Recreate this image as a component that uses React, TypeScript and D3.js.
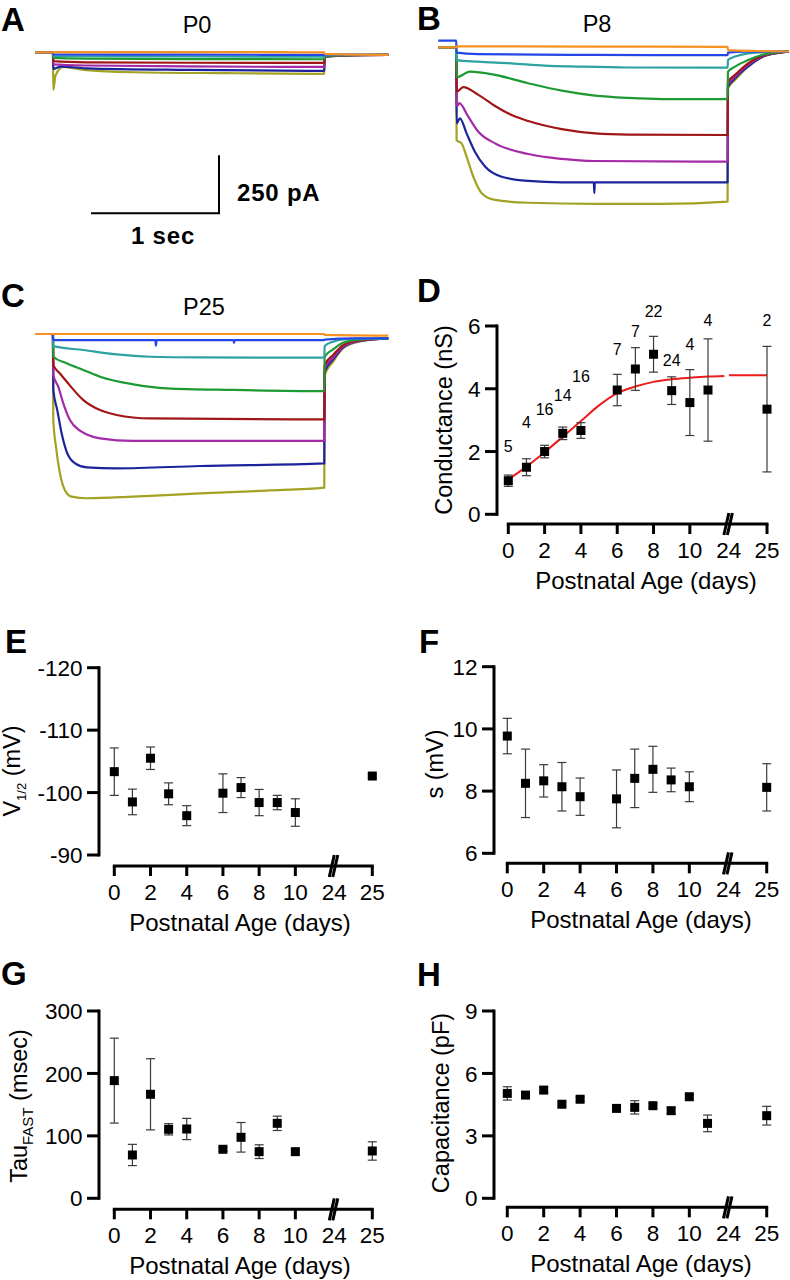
import React from 'react';
import * as d3 from 'd3';

const FONT = "'Liberation Sans', Arial, Helvetica, sans-serif";

// ---------------- Panels A–C : current traces (time s, current pA) ----------------
// order of traces: orange, blue, teal, green, red, purple, navy, olive
const traceColors = ['#f8911f', '#2446e6', '#2ea2a2', '#1e9a34', '#a01616', '#a42aa6', '#1b249c', '#a2a224'];

const tracesP0: number[][][] = [
  [[0, 0], [0.14, 0], [0.143, 1], [1.2, 1], [2.26, 0], [2.263, -7], [2.5, -10], [2.76, -11]],
  [[0, 0], [0.14, 0], [0.143, -9], [1.2, -10], [2.26, -11], [2.263, -9], [2.5, -10], [2.76, -11]],
  [[0, 0], [0.14, 0], [0.143, -16], [1.2, -18], [2.26, -19], [2.263, -12], [2.5, -11], [2.76, -11]],
  [[0, 0], [0.14, 0], [0.143, -24], [0.4, -27], [1.2, -29], [2.26, -30], [2.263, -14], [2.5, -12], [2.76, -11]],
  [[0, 0], [0.14, 0], [0.143, -38], [0.4, -43], [1.2, -45], [2.26, -46], [2.263, -16], [2.5, -12], [2.76, -11]],
  [[0, 0], [0.14, 0], [0.143, -52], [0.4, -57], [1.2, -61], [2.26, -63], [2.263, -18], [2.5, -12], [2.76, -11]],
  [[0, 0], [0.14, 0], [0.143, -72], [0.2, -62], [0.4, -69], [1.2, -76], [2.26, -80], [2.263, -19], [2.5, -12], [2.76, -11]],
  [[0, 0], [0.14, 0], [0.143, -162], [0.16, -100], [0.22, -63], [0.38, -76], [0.77, -86], [1.5, -90], [2.26, -93], [2.263, -20], [2.5, -12], [2.76, -11]],
];

const tracesP8: number[][][] = [
  [[0, 0], [0.14, 0], [0.143, 4], [1.2, 3], [2.26, 2], [2.263, -12], [2.5, -16], [2.74, -18]],
  [[0, 29], [0.14, 29], [0.143, -23], [0.31, -29], [1.22, -33], [2.26, -34], [2.263, -23], [2.4, -19], [2.74, -18.7]],
  [[0, 0], [0.14, 0], [0.143, -55], [0.31, -62], [0.57, -69], [0.83, -79], [1.09, -83], [1.48, -87], [2.26, -88], [2.263, -55], [2.318, -40], [2.42, -26], [2.526, -21.6], [2.656, -18.7], [2.74, -18.7]],
  [[0, 0], [0.14, 0], [0.143, -129], [0.247, -105], [0.443, -119], [0.703, -155], [0.964, -187], [1.224, -208], [1.484, -218], [1.745, -223], [2.26, -223], [2.263, -105], [2.318, -83], [2.42, -55], [2.526, -33], [2.656, -21.6], [2.74, -18.7]],
  [[0, 0], [0.14, 0], [0.143, -191], [0.195, -172], [0.313, -205], [0.443, -253], [0.573, -292], [0.703, -318], [0.964, -353], [1.224, -371], [1.484, -376], [2.26, -378], [2.263, -148], [2.318, -119], [2.42, -69], [2.526, -37], [2.656, -23], [2.74, -18.7]],
  [[0, 0], [0.14, 0], [0.143, -256], [0.164, -241], [0.234, -299], [0.313, -364], [0.443, -414], [0.703, -460], [0.964, -481], [1.224, -490], [2.26, -493], [2.263, -162], [2.318, -126], [2.42, -76], [2.526, -40], [2.656, -23], [2.74, -18.7]],
  [[0, 0], [0.14, 0], [0.143, -328], [0.169, -306], [0.221, -371], [0.286, -450], [0.365, -514], [0.495, -558], [0.703, -576], [0.964, -582], [1.215, -582], [1.219, -628], [1.223, -582], [2.26, -582], [2.263, -172], [2.318, -134], [2.42, -83], [2.526, -43], [2.656, -24], [2.74, -18.7]],
  [[0, 0], [0.14, 0], [0.143, -400], [0.182, -414], [0.221, -471], [0.273, -557], [0.339, -629], [0.443, -658], [0.703, -670], [1.224, -675], [1.745, -675], [2.26, -665], [2.263, -177], [2.318, -141], [2.42, -83], [2.526, -43], [2.656, -24], [2.74, -18.7]],
];

const tracesP25: number[][][] = [
  [[0, 0], [0.14, 0], [0.143, 0], [2.26, 0], [2.263, -4], [2.76, -7]],
  [[0, 0], [0.14, 0], [0.143, -26], [0.94, -26], [0.945, -50], [0.95, -26], [1.55, -26], [1.555, -38], [1.56, -26], [2.26, -26], [2.263, -24], [2.5, -19], [2.76, -18.7]],
  [[0, 0], [0.14, 0], [0.143, -52], [0.378, -69], [0.638, -88], [0.9, -98], [1.29, -101], [2.26, -102], [2.263, -52], [2.33, -33], [2.41, -23], [2.54, -20], [2.76, -18.7]],
  [[0, 0], [0.14, 0], [0.143, -98], [0.247, -126], [0.378, -155], [0.508, -184], [0.768, -217], [1.03, -234], [1.55, -241], [2.26, -246], [2.263, -98], [2.33, -66], [2.41, -37], [2.54, -24], [2.76, -18.7]],
  [[0, 0], [0.14, 0], [0.143, -134], [0.195, -170], [0.247, -205], [0.378, -285], [0.508, -328], [0.638, -349], [0.9, -364], [2.26, -368], [2.263, -134], [2.33, -90], [2.41, -47], [2.54, -27], [2.76, -18.7]],
  [[0, 0], [0.14, 0], [0.143, -177], [0.182, -227], [0.221, -299], [0.273, -371], [0.352, -417], [0.508, -450], [0.768, -461], [2.26, -461], [2.263, -148], [2.33, -101], [2.41, -52], [2.54, -29], [2.76, -18.7]],
  [[0, 0], [0.14, 0], [0.143, -241], [0.174, -328], [0.208, -428], [0.247, -507], [0.313, -558], [0.404, -575], [0.638, -579], [1.29, -569], [2.26, -558], [2.263, -162], [2.33, -109], [2.41, -56], [2.54, -30], [2.76, -18.7]],
  [[0, 0], [0.14, 0], [0.143, -371], [0.164, -486], [0.195, -601], [0.234, -673], [0.286, -701], [0.404, -708], [0.768, -701], [1.29, -687], [1.81, -675], [2.26, -662], [2.263, -177], [2.33, -119], [2.41, -60], [2.54, -32], [2.76, -18.7]],
];

const scaleBarSec = 1;
const scaleBarPA = 250;

// ---------------- Panels D–H : age-dependence ----------------
const xTickDays = [0, 2, 4, 6, 8, 10, 25];
const xTickLabelDays = [0, 2, 4, 6, 8, 10, 24, 25];

const condDays = [0, 1, 2, 3, 4, 6, 7, 8, 9, 10, 11, 25];
const condMean = [1.07, 1.5, 2.0, 2.58, 2.67, 3.96, 4.63, 5.1, 3.94, 3.56, 3.96, 3.35];
const condSem = [0.18, 0.27, 0.2, 0.2, 0.25, 0.5, 0.68, 0.57, 0.44, 1.05, 1.63, 2.0];
const condN = ['5', '4', '16', '14', '16', '7', '7', '22', '24', '4', '4', '2'];
const condNAt = [1.99, 2.76, 3.16, 3.62, 4.22, 5.08, 5.66, 6.3, 4.72, 5.22, 6.0, 6.0];
const fitDaysA = [0, 1, 2, 3, 4, 5, 6, 7, 8, 9, 10, 11, 11.9];
const fitCondA = [1.11, 1.52, 1.98, 2.47, 2.97, 3.47, 3.86, 4.07, 4.22, 4.3, 4.35, 4.39, 4.41];
const fitDaysB = [24, 25];
const fitCondB = [4.43, 4.43];

const vDays = [0, 1, 2, 3, 4, 6, 7, 8, 9, 10, 25];
const vHalf = [-103.35, -98.5, -105.5, -99.8, -96.3, -99.9, -100.8, -98.4, -98.4, -96.8, -102.65];
const vHalfSem = [3.8, 2.05, 1.8, 1.75, 1.6, 3.1, 1.6, 2.1, 1.15, 2.2, 0.3];

const sDays = [0, 1, 2, 3, 4, 6, 7, 8, 9, 10, 25];
const sVals = [9.77, 8.25, 8.33, 8.14, 7.82, 7.75, 8.41, 8.7, 8.36, 8.14, 8.12];
const sSem = [0.57, 1.1, 0.52, 0.78, 0.6, 0.93, 0.94, 0.74, 0.38, 0.48, 0.76];

const tauDays = [0, 1, 2, 3, 4, 6, 7, 8, 9, 10, 25];
const tauVals = [188.5, 69.4, 166.6, 110.5, 111, 78.5, 97.7, 74.7, 120.1, 74.7, 75.8];
const tauSem = [68, 17, 57, 9, 17, 3, 23.7, 11, 11.5, 3, 14.7];

const capDays = [0, 1, 2, 3, 4, 6, 7, 8, 9, 10, 11, 25];
const capVals = [5.04, 4.96, 5.2, 4.52, 4.76, 4.32, 4.37, 4.45, 4.21, 4.88, 3.6, 3.97];
const capSem = [0.32, 0.1, 0.12, 0.1, 0.1, 0.12, 0.32, 0.1, 0.15, 0.1, 0.4, 0.45];

// ---------------- helpers ----------------
const SEC_PX = 128;
const PA250_PX = 58;

function TracePanel({ traces, x0, y0 }: { traces: number[][][]; x0: number; y0: number }) {
  const x = d3.scaleLinear().domain([0, 1]).range([x0, x0 + SEC_PX]);
  const y = d3.scaleLinear().domain([0, -250]).range([y0, y0 + PA250_PX]);
  const line = d3
    .line<number[]>()
    .x((d) => x(d[0]))
    .y((d) => y(d[1]))
    .curve(d3.curveMonotoneX);
  const order = traces.map((_, i) => i).reverse();
  return (
    <g>
      {order.map((i) => (
        <path key={i} d={line(traces[i]) || ''} fill="none" stroke={traceColors[i]} strokeWidth={2.2} strokeLinejoin="round" />
      ))}
    </g>
  );
}

function ageScale(x0: number, x25: number) {
  const u = (x25 - x0) / 14.25;
  return d3.scaleLinear().domain([0, 12, 24, 25]).range([x0, x0 + 12 * u, x0 + 12.15 * u, x25]);
}

type Cfg = {
  letter: string;
  letterX: number;
  letterY: number;
  yAxisX: number;
  x0: number;
  x25: number;
  yDomain: [number, number];
  yRange: [number, number];
  yTicks: number[];
  xAxisY: number;
  titleX: number;
  ylabel: React.ReactNode;
  ylabelX: number;
  ylabelY: number;
};

function Scatter({
  cfg,
  days,
  vals,
  errs,
  extra,
}: {
  cfg: Cfg;
  days: number[];
  vals: number[];
  errs: number[];
  extra?: (x: d3.ScaleLinear<number, number>, y: d3.ScaleLinear<number, number>) => React.ReactNode;
}) {
  const x = ageScale(cfg.x0, cfg.x25);
  const y = d3.scaleLinear().domain(cfg.yDomain).range(cfg.yRange);
  const ax = cfg.xAxisY;
  const bx = x(24);
  const cap = 4.5;
  const sq = 9;
  return (
    <g>
      <text x={cfg.letterX} y={cfg.letterY} fontSize={33} fontWeight="bold">
        {cfg.letter}
      </text>
      {/* y axis */}
      <line x1={cfg.yAxisX} x2={cfg.yAxisX} y1={cfg.yRange[0] + 1.5} y2={cfg.yRange[1] - 1.5} stroke="#000" strokeWidth={3} />
      {cfg.yTicks.map((t) => (
        <g key={t}>
          <line x1={cfg.yAxisX - 12} x2={cfg.yAxisX} y1={y(t)} y2={y(t)} stroke="#000" strokeWidth={3} />
          <text x={cfg.yAxisX - 16.5} y={y(t)} dy="0.36em" textAnchor="end" fontSize={22.5}>
            {t}
          </text>
        </g>
      ))}
      <text
        transform={`translate(${cfg.ylabelX},${cfg.ylabelY}) rotate(-90)`}
        textAnchor="middle"
        dy="0.36em"
        fontSize={23.5}
      >
        {cfg.ylabel}
      </text>
      {/* x axis */}
      <line x1={x(0) - 1.5} x2={x(25) + 1.5} y1={ax} y2={ax} stroke="#000" strokeWidth={3} />
      {xTickDays.map((d) => (
        <line key={d} x1={x(d)} x2={x(d)} y1={ax} y2={ax + 10} stroke="#000" strokeWidth={3} />
      ))}
      {xTickLabelDays.map((d) => (
        <text key={d} x={x(d)} y={ax + 34} textAnchor="middle" fontSize={22.5}>
          {d}
        </text>
      ))}
      <line x1={bx - 5} y1={ax + 11} x2={bx} y2={ax - 11} stroke="#000" strokeWidth={3} />
      <line x1={bx - 1.5} y1={ax + 11} x2={bx + 3.5} y2={ax - 11} stroke="#000" strokeWidth={3} />
      <text x={cfg.titleX} y={ax + 65} textAnchor="middle" fontSize={24}>
        Postnatal Age (days)
      </text>
      {extra ? extra(x, y) : null}
      {/* error bars */}
      {days.map((d, i) => {
        const cx = x(d);
        const lo = y(vals[i] - errs[i]);
        const hi = y(vals[i] + errs[i]);
        return (
          <g key={'e' + i} stroke="#3a3a3a" strokeWidth={1.2}>
            <line x1={cx} x2={cx} y1={lo} y2={hi} />
            <line x1={cx - cap} x2={cx + cap} y1={lo} y2={lo} />
            <line x1={cx - cap} x2={cx + cap} y1={hi} y2={hi} />
          </g>
        );
      })}
      {days.map((d, i) => (
        <rect key={'m' + i} x={x(d) - sq / 2} y={y(vals[i]) - sq / 2} width={sq} height={sq} fill="#000" />
      ))}
    </g>
  );
}

const cfgD: Cfg = {
  letter: 'D', letterX: 417, letterY: 302, yAxisX: 497, x0: 508.3, x25: 767,
  yDomain: [0, 6], yRange: [514.3, 326], yTicks: [0, 2, 4, 6], xAxisY: 524, titleX: 646,
  ylabel: 'Conductance (nS)', ylabelX: 444, ylabelY: 420,
};
const cfgE: Cfg = {
  letter: 'E', letterX: 5, letterY: 653, yAxisX: 99, x0: 114.3, x25: 372.3,
  yDomain: [-90, -120], yRange: [855, 667.7], yTicks: [-90, -100, -110, -120], xAxisY: 866, titleX: 240,
  ylabel: (
    <>
      <tspan>V</tspan>
      <tspan fontSize={13} dy={6}>1/2</tspan>
      <tspan dy={-6}> (mV)</tspan>
    </>
  ),
  ylabelX: 12, ylabelY: 771,
};
const cfgF: Cfg = {
  letter: 'F', letterX: 419, letterY: 653, yAxisX: 494, x0: 507.3, x25: 766.7,
  yDomain: [6, 12], yRange: [853.3, 666.7], yTicks: [6, 8, 10, 12], xAxisY: 863.3, titleX: 641,
  ylabel: 's (mV)', ylabelX: 435, ylabelY: 764,
};
const cfgG: Cfg = {
  letter: 'G', letterX: 1, letterY: 985, yAxisX: 99, x0: 114.3, x25: 372.3,
  yDomain: [0, 300], yRange: [1198.3, 1011], yTicks: [0, 100, 200, 300], xAxisY: 1209.3, titleX: 240,
  ylabel: (
    <>
      <tspan>Tau</tspan>
      <tspan fontSize={15} dy={6}>FAST</tspan>
      <tspan dy={-6}> (msec)</tspan>
    </>
  ),
  ylabelX: 19, ylabelY: 1106,
};
const cfgH: Cfg = {
  letter: 'H', letterX: 417, letterY: 986, yAxisX: 494, x0: 507.3, x25: 766.7,
  yDomain: [0, 9], yRange: [1198.3, 1011], yTicks: [0, 3, 6, 9], xAxisY: 1207.3, titleX: 641,
  ylabel: 'Capacitance (pF)', ylabelX: 441, ylabelY: 1103,
};

function ScaleBar({ cornerX, cornerY }: { cornerX: number; cornerY: number }) {
  const x = d3.scaleLinear().domain([0, 1]).range([0, SEC_PX]);
  const y = d3.scaleLinear().domain([0, 250]).range([0, PA250_PX]);
  const w = x(scaleBarSec);
  const h = y(scaleBarPA);
  return (
    <g>
      <path d={`M${cornerX - w},${cornerY}H${cornerX}V${cornerY - h}`} fill="none" stroke="#000" strokeWidth={2} />
      <text x={cornerX + 18} y={cornerY - 12} fontSize={24} fontWeight="bold" letterSpacing={0.8}>
        {`${scaleBarPA} pA`}
      </text>
      <text x={cornerX - w / 2 + 8} y={cornerY + 31} textAnchor="middle" fontSize={24} fontWeight="bold" letterSpacing={0.8}>
        {`${scaleBarSec} sec`}
      </text>
    </g>
  );
}

export default function App() {
  return (
    <svg
      width={790}
      height={1280}
      viewBox="0 0 790 1280"
      style={{ position: 'absolute', left: 0, top: 0, background: '#fff' }}
      fontFamily={FONT}
    >
      <rect width={790} height={1280} fill="#fff" />
      {/* A */}
      <text x={1} y={31} fontSize={33} fontWeight="bold">A</text>
      <text x={197} y={33} fontSize={23.5} textAnchor="middle">P0</text>
      <TracePanel traces={tracesP0} x0={35} y0={52.3} />
      <ScaleBar cornerX={219} cornerY={213.3} />
      {/* B */}
      <text x={417} y={30} fontSize={33} fontWeight="bold">B</text>
      <text x={597} y={32} fontSize={23.5} textAnchor="middle">P8</text>
      <TracePanel traces={tracesP8} x0={438.3} y0={47.3} />
      {/* C */}
      <text x={1} y={307} fontSize={33} fontWeight="bold">C</text>
      <text x={204} y={315} fontSize={23.5} textAnchor="middle">P25</text>
      <TracePanel traces={tracesP25} x0={35} y0={334} />
      {/* D */}
      <Scatter
        cfg={cfgD}
        days={condDays}
        vals={condMean}
        errs={condSem}
        extra={(x, y) => {
          const lineA = d3.line<number>().x((d) => x(d)).y((d, i) => y(fitCondA[i])).curve(d3.curveMonotoneX);
          const lineB = d3.line<number>().x((d) => x(d)).y((d, i) => y(fitCondB[i]));
          return (
            <g>
              <path d={lineA(fitDaysA) || ''} fill="none" stroke="#ee1c1c" strokeWidth={2} />
              <path d={lineB(fitDaysB) || ''} fill="none" stroke="#ee1c1c" strokeWidth={2} />
              {condDays.map((d, i) => (
                <text key={'n' + i} x={x(d)} y={y(condNAt[i])} textAnchor="middle" fontSize={16}>
                  {condN[i]}
                </text>
              ))}
            </g>
          );
        }}
      />
      <Scatter cfg={cfgE} days={vDays} vals={vHalf} errs={vHalfSem} />
      <Scatter cfg={cfgF} days={sDays} vals={sVals} errs={sSem} />
      <Scatter cfg={cfgG} days={tauDays} vals={tauVals} errs={tauSem} />
      <Scatter cfg={cfgH} days={capDays} vals={capVals} errs={capSem} />
    </svg>
  );
}
